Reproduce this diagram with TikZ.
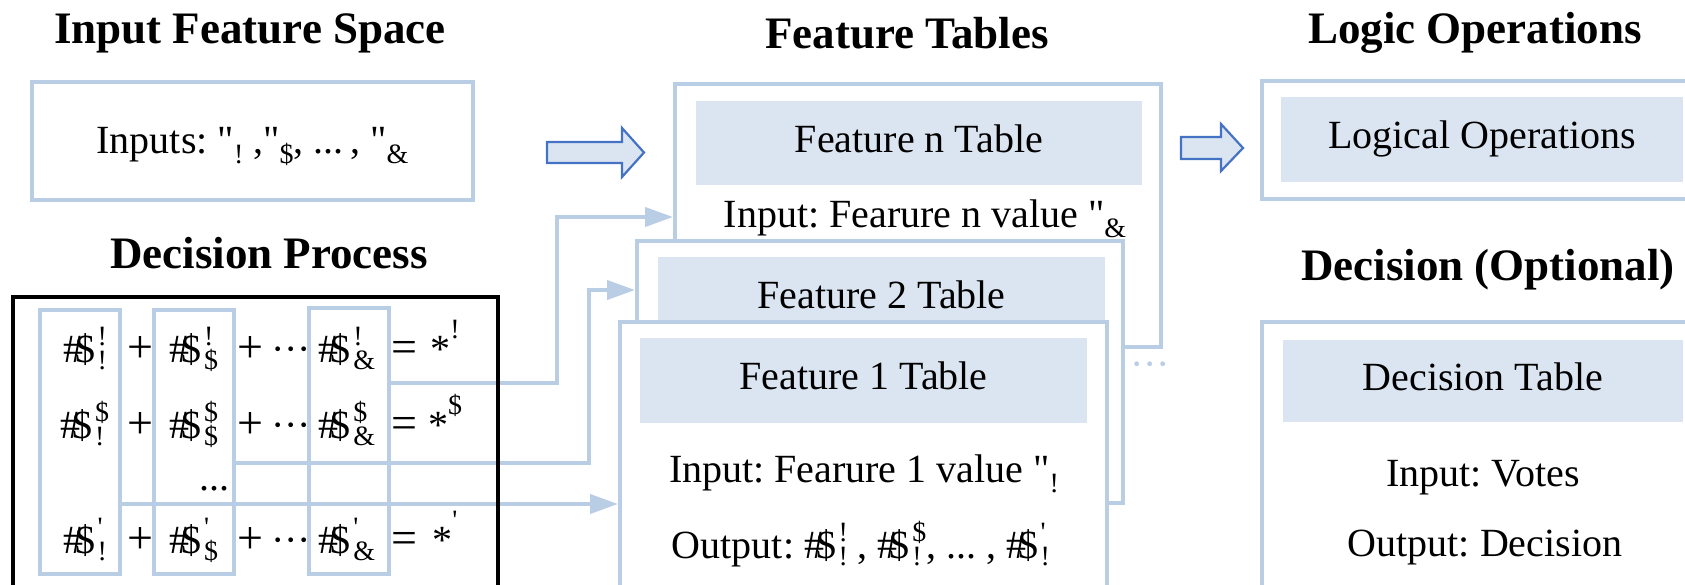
\documentclass[tikz,border=0pt]{standalone}
\usepackage{amsmath}
\usepackage{fontspec}
\setmainfont{Liberation Serif}[Ligatures=TeXOff]
\usetikzlibrary{arrows.meta}

\definecolor{linkblue}{RGB}{185,205,229}
\definecolor{cellfill}{RGB}{219,229,241}
\definecolor{arrowblue}{RGB}{68,114,196}

% script size, weight with stacked super/subscript, plain subscript
\newcommand{\scrsz}{\fontsize{14}{14}\selectfont}
\newcommand{\wgt}[2]{\#\kern-.2em\$\kern.06em\begingroup\scrsz
  \setbox0\hbox{#1}\setbox2\hbox{#2}%
  \ifdim\wd0>\wd2 \rlap{\raisebox{-.28em}{\box2}}\raisebox{.58em}{\box0}%
  \else\rlap{\raisebox{.58em}{\box0}}\raisebox{-.28em}{\box2}\fi\endgroup}
\newcommand{\sbx}[1]{\raisebox{-.25em}{\scrsz #1}}
\newcommand{\spx}[1]{\raisebox{.58em}{\scrsz #1}}
\newcommand{\opr}[1]{{\fontsize{23}{23}\selectfont #1}}

\begin{document}
\frenchspacing
\begin{tikzpicture}[x=0.5pt, y=-0.5pt, every node/.style={font=\fontsize{20}{24}\selectfont, inner sep=0pt}]
\useasboundingbox (0,0) rectangle (1685,584);
\clip (0,0) rectangle (1685,584);

% Styles
\tikzstyle{head_text} = [anchor=base, font=\fontsize{22.5}{27}\selectfont\bfseries]
\tikzstyle{body_text} = [anchor=base]
\tikzstyle{outer_box} = [rectangle, draw=linkblue, line width=2pt, fill=white]
\tikzstyle{cell_box} = [rectangle, fill=cellfill, text height=2.05ex, text depth=0pt]
\tikzstyle{col_box} = [rectangle, draw=linkblue, line width=2pt, minimum width=40pt, minimum height=132pt]
\tikzstyle{link} = [draw=linkblue, line width=2pt, -{Triangle[length=14pt, width=9.5pt]}]
\tikzstyle{big_arrow} = [draw=arrowblue, fill=cellfill, line width=1.1pt]

% Headings
\node[head_text] (h_in) at (250,43) {Input Feature Space};
\node[head_text] (h_ft) at (907,48) {Feature Tables};
\node[head_text] (h_lo) at (1475,43) {Logic Operations};
\node[head_text] (h_dp) at (269,268) {Decision Process};
\node[head_text] (h_dc) at (1488,280) {Decision (Optional)};

% Input feature space
\node[outer_box, minimum width=220.5pt, minimum height=59pt] (inputs) at (252.5,141) {};
\node[body_text] (inputs_txt) at (252.5,153) {Inputs: "\sbx{!} ,"\sbx{\$}, ...\,, "\sbx{\&}};

% Feature tables, back to front
\node[outer_box, minimum width=243pt, minimum height=131.5pt] (feat_n) at (918,215.5) {};
\node[cell_box, minimum width=223pt, minimum height=42pt] (feat_n_head) at (919,143) {Feature n Table};
\node[body_text] (feat_n_in) at (925,227) {Input: Fearure n value "\sbx{\&}};

\node[outer_box, minimum width=243pt, minimum height=131pt] (feat_2) at (880,372) {};
\node[cell_box, minimum width=223.5pt, minimum height=42pt] (feat_2_head) at (881.5,299) {Feature 2 Table};

\node[outer_box, minimum width=243.5pt, minimum height=169pt] (feat_1) at (863.5,491) {};
\node[cell_box, minimum width=223.5pt, minimum height=42.5pt] (feat_1_head) at (863.5,380.5) {Feature 1 Table};
\node[body_text] (feat_1_in) at (864,482) {Input: Fearure 1 value "\sbx{!}};
\node[body_text] (feat_1_out) at (861,558) {Output: \wgt{!}{!} , \wgt{\$}{!}, ... , \wgt{'}{!}};

\node[body_text, text=linkblue] (more) at (1150,377) {···};

% Logic operations and decision
\node[outer_box, minimum width=220pt, minimum height=59pt] (logic) at (1482,140) {};
\node[cell_box, minimum width=201pt, minimum height=42.5pt] (logic_head) at (1482,139.5) {Logical Operations};
\node[outer_box, minimum width=220pt, minimum height=169pt] (decide) at (1482,491) {};
\node[cell_box, minimum width=200pt, minimum height=41pt] (decide_head) at (1483,381) {Decision Table};
\node[body_text] (decide_in) at (1483,486) {Input: Votes};
\node[body_text] (decide_out) at (1485,556) {Output: Decision};

% Big arrows
\draw[big_arrow] (547,142) -- (622,142) -- (622,128) -- (644,152.5) -- (622,177) -- (622,163) -- (547,163) -- cycle;
\draw[big_arrow] (1181,137) -- (1221,137) -- (1221,124) -- (1243,148) -- (1221,171) -- (1221,159) -- (1181,159) -- cycle;

% Decision process columns
\node[col_box] (col_a) at (80,442) {};
\node[col_box] (col_b) at (193.5,442) {};
\node[col_box, minimum height=133pt] (col_c) at (348.5,441) {};

% Links into the tables
\draw[link] (col_c.east |- 0,383) -| (557,217) -- (feat_n.west |- 0,217);
\draw[link] (col_b.east |- 0,463) -| (589,290) -- (feat_2.west |- 0,290);
\draw[link] (col_a.east |- 0,504) -- (feat_1.west |- 0,504);

\node[rectangle, draw=black, line width=1.6pt, minimum width=242.5pt, minimum height=171.5pt] (proc) at (255.5,468.5) {};

% Weighted sums
\foreach \rs/\yb [count=\i] in {!/362, \$/438, '/553} {
  \node[body_text] (w_\i_a) at (85,\yb) {\wgt{\rs}{!}};
  \node[body_text] (p_\i_a) at (140,\yb) {\opr{+}};
  \node[body_text] (w_\i_b) at (194,\yb) {\wgt{\rs}{\$}};
  \node[body_text] (p_\i_b) at (250,\yb) {\opr{+}};
  \node[body_text] (d_\i) at (291,\yb) {···};
  \node[body_text] (w_\i_c) at (347,\yb) {\wgt{\rs}{\&}};
  \node[body_text] (e_\i) at (404,\yb) {\opr{=}};
  \node[body_text] (s_\i) at (445,\yb) {*\spx{\rs}};
}
\node[body_text] (gap) at (214,490) {...};
\end{tikzpicture}
\end{document}
